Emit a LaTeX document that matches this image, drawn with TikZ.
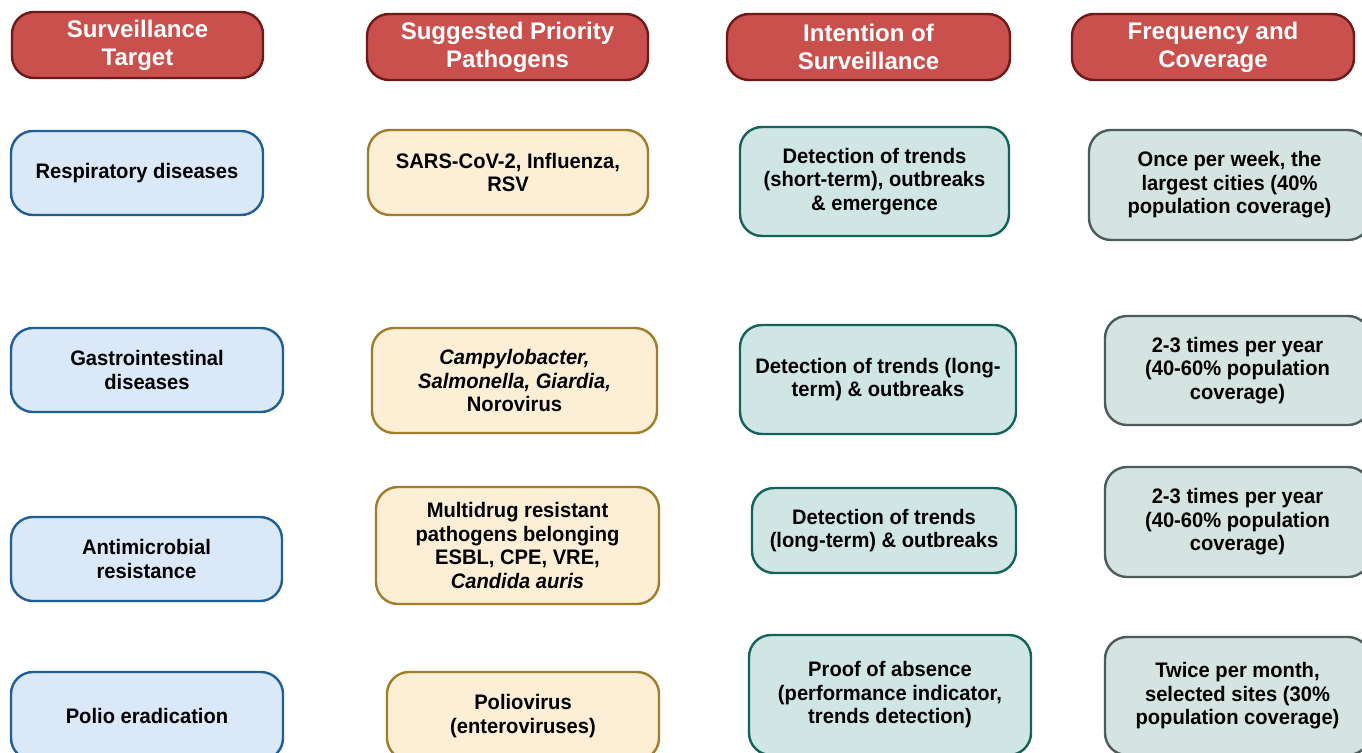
\documentclass[tikz,border=0pt]{standalone}
\usepackage{fontspec}
\setmainfont{Liberation Sans}
\newfontfamily\bodyfont[FakeStretch=0.96]{Liberation Sans}
\definecolor{hdrfill}{HTML}{C9504D}
\definecolor{hdrline}{HTML}{6E1A1A}
\definecolor{bluefill}{HTML}{DAE8F8}
\definecolor{blueline}{HTML}{1F5F96}
\definecolor{yelfill}{HTML}{FCEFD5}
\definecolor{yelline}{HTML}{A07D2A}
\definecolor{tealfill}{HTML}{D0E6E5}
\definecolor{tealline}{HTML}{15615C}
\definecolor{grayfill}{HTML}{D5E3E1}
\definecolor{grayline}{HTML}{4D5B5B}
\tikzset{
  basebox/.style={rounded corners=22pt, line width=2.4pt, inner sep=0pt, align=center,
    font=\bodyfont\fontsize{21}{23.5}\selectfont\bfseries},
  hdr/.style={basebox, fill=hdrfill, draw=hdrline, text=white,
    font=\fontsize{24}{28}\selectfont\bfseries},
  bluebox/.style={basebox, fill=bluefill, draw=blueline},
  yelbox/.style={basebox, fill=yelfill, draw=yelline},
  tealbox/.style={basebox, fill=tealfill, draw=tealline},
  graybox/.style={basebox, fill=grayfill, draw=grayline},
  sz/.style n args={2}{minimum width=#1pt, minimum height=#2pt}
}
\begin{document}
\begin{tikzpicture}[x=1pt,y=-1pt]
\useasboundingbox (0,0) rectangle (1362,752);
\fill[white] (0,0) rectangle (1362,752);
\clip (0,0) rectangle (1362,752);
% headers
\node[hdr, sz={251}{66}] (h1) at (137.5,45) {Surveillance\\Target};
\node[hdr, sz={281}{66}] (h2) at (507.5,47) {Suggested Priority\\Pathogens};
\node[hdr, sz={283}{66}] (h3) at (868.5,47) {Intention of\\Surveillance};
\node[hdr, sz={282}{66}] (h4) at (1213,47) {Frequency and\\Coverage};
% row 1
\node[bluebox, sz={252}{84}] (t1) at (137,173) {Respiratory diseases};
\node[yelbox, sz={280}{85}] (p1) at (508,172.5) {SARS-CoV-2, Influenza,\\RSV};
\node[tealbox, sz={269}{109}] (i1) at (874.5,181.5) {Detection of trends\\(short-term), outbreaks\\\& emergence};
\node[graybox, sz={281}{110}] (f1) at (1229.5,185) {Once per week, the\\largest cities (40\%\\population coverage)};
% row 2
\node[bluebox, sz={272}{84}] (t2) at (147,370) {Gastrointestinal\\diseases};
\node[yelbox, sz={285}{105}] (p2) at (514.5,380.5) {\textit{Campylobacter,}\\\textit{Salmonella, Giardia,}\\Norovirus};
\node[tealbox, sz={276}{109}] (i2) at (878,379.5) {Detection of trends (long-\\term) \& outbreaks};
\node[graybox, sz={265}{109}] (f2) at (1237.5,370.5) {2-3 times per year\\(40-60\% population\\coverage)};
% row 3
\node[bluebox, sz={271}{84}] (t3) at (146.5,559) {Antimicrobial\\resistance};
\node[yelbox, sz={283}{117}] (p3) at (517.5,545.5) {Multidrug resistant\\pathogens belonging\\ESBL, CPE, VRE,\\\textit{Candida auris}};
\node[tealbox, sz={264}{85}] (i3) at (884,530.5) {Detection of trends\\(long-term) \& outbreaks};
\node[graybox, sz={265}{110}] (f3) at (1237.5,522) {2-3 times per year\\(40-60\% population\\coverage)};
% row 4
\node[bluebox, sz={272}{88}] (t4) at (147,716) {Polio eradication};
\node[yelbox, sz={272}{88}] (p4) at (523,716) {Poliovirus\\(enteroviruses)};
\node[tealbox, sz={282}{120}] (i4) at (890,695) {Proof of absence\\(performance indicator,\\trends detection)};
\node[graybox, sz={265}{118}] (f4) at (1237.5,696) {Twice per month,\\selected sites (30\%\\population coverage)};
\end{tikzpicture}
\end{document}
